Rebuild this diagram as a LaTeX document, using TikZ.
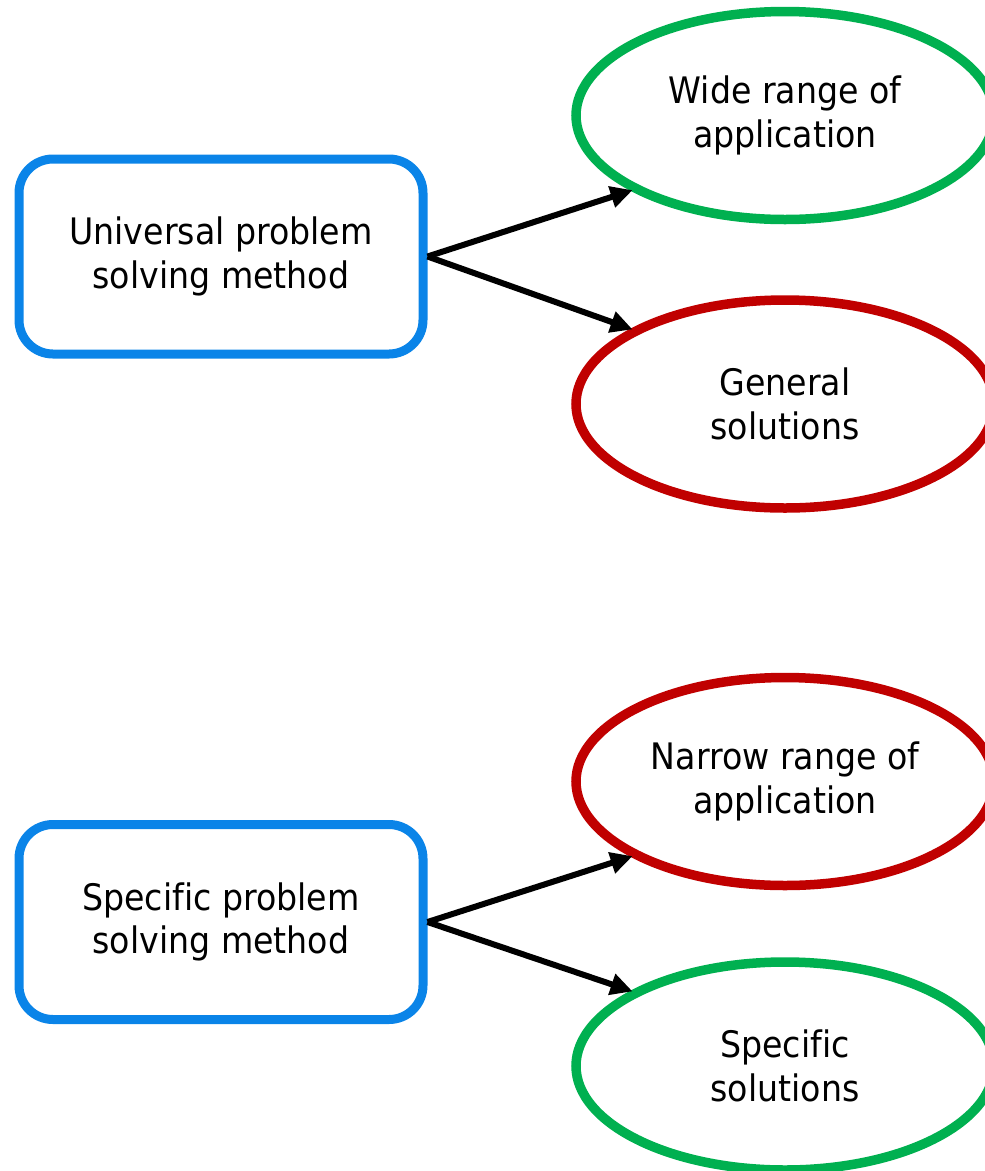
\documentclass[tikz,border=0pt]{standalone}
\usepackage{fontspec}
\setmainfont{DejaVu Sans}[FakeStretch=0.91, Ligatures=NoCommon]
\usepackage{tikz}
\usetikzlibrary{arrows.meta}
\usetikzlibrary{shapes.geometric}

\definecolor{methodblue}{RGB}{10,132,232}
\definecolor{goodgreen}{RGB}{0,176,80}
\definecolor{badred}{RGB}{192,0,0}

\tikzset{
  method/.style={draw=methodblue, line width=9pt, rounded corners=34pt,
    minimum width=404pt, minimum height=195pt, align=center},
  outcome/.style={ellipse, line width=9.5pt, minimum width=418pt,
    minimum height=208pt, align=center, inner sep=0pt},
  good/.style={outcome, draw=goodgreen},
  bad/.style={outcome, draw=badred},
  arr/.style={line width=6pt, -{Triangle[length=22pt,width=21pt]}, shorten >=-2pt}
}

\begin{document}
\begin{tikzpicture}[x=1pt, y=-1pt, font=\fontsize{36.5}{43.5}\selectfont]
  \useasboundingbox (0,0) rectangle (985,1171);

  % universal method
  \node [method] (univ) at (221,256.5) {Universal problem\\solving method};
  \node [good] (wide) at (785,115.5) {Wide range of\\application};
  \node [bad] (general) at (785,404) {General\\solutions};
  \draw [arr] (univ.east) -- (wide.206);
  \draw [arr] (univ.east) -- (general.154);

  % specific method
  \node [method] (spec) at (221,922) {Specific problem\\solving method};
  \node [bad] (narrow) at (785,781.5) {Narrow range of\\application};
  \node [good] (specsol) at (785,1066) {Specific\\solutions};
  \draw [arr] (spec.east) -- (narrow.206);
  \draw [arr] (spec.east) -- (specsol.154);
\end{tikzpicture}
\end{document}
